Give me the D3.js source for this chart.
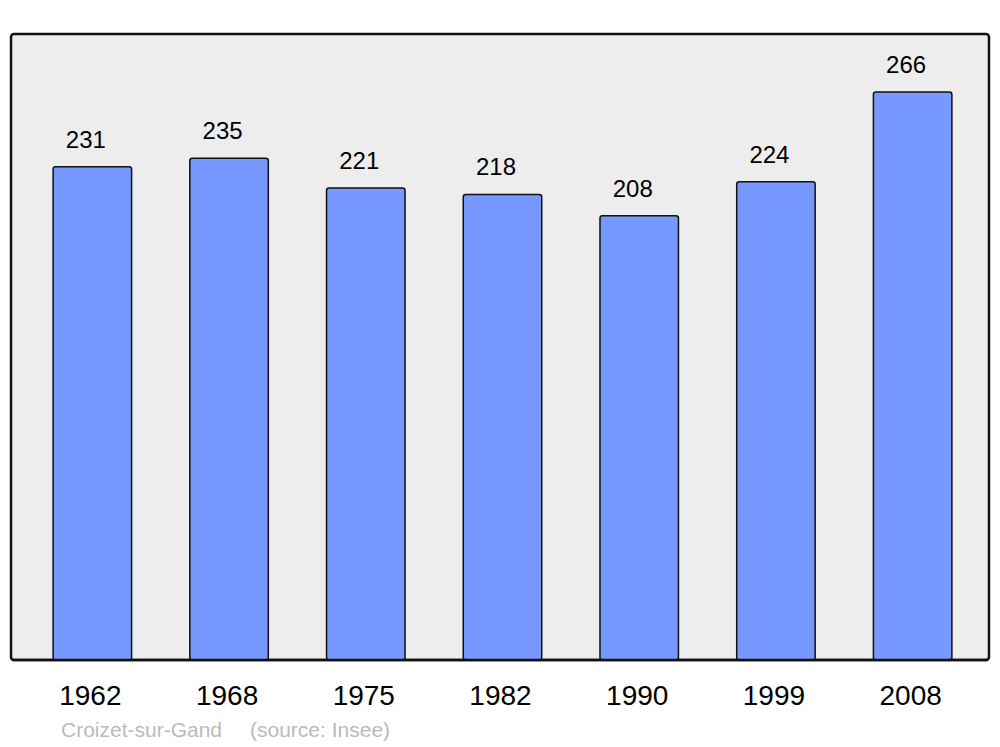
<!DOCTYPE html>
<html>
<head>
<meta charset="utf-8">
<script src="https://cdn.jsdelivr.net/npm/d3@7"></script>
<style>
  body { margin: 0; background: #fff; }
  text { font-family: "Liberation Sans", Arial, sans-serif; }
</style>
</head>
<body>
<script>
const width = 1000
const height = 747

const years = ["1962", "1968", "1975", "1982", "1990", "1999", "2008"]
const population = [231, 235, 221, 218, 208, 224, 266]
const commune = "Croizet-sur-Gand"
const source = "(source: Insee)"

const frame = ({left: 11, top: 34, right: 989, bottom: 660})

const x = d3.scaleBand()
    .domain(years)
    .range([24, 981])
    .paddingInner(0.426)
    .paddingOuter(0.213)

const y = d3.scaleLinear()
    .domain([0, 266])
    .range([frame.bottom, 92])

const data = years.map((yr, i) => ({year: yr, value: population[i]}))

const svg = d3.select("body").append("svg")
    .attr("width", width)
    .attr("height", height)

svg.append("rect")
    .attr("x", frame.left)
    .attr("y", frame.top)
    .attr("width", frame.right - frame.left)
    .attr("height", frame.bottom - frame.top)
    .attr("rx", 3)
    .attr("fill", "#ededed")
    .attr("stroke", "#111")
    .attr("stroke-width", 2.5)

svg.append("g")
  .selectAll("rect")
  .data(data)
  .join("rect")
    .attr("x", d => x(d.year))
    .attr("y", d => y(d.value))
    .attr("width", x.bandwidth())
    .attr("height", d => frame.bottom - y(d.value))
    .attr("rx", 2.5)
    .attr("fill", "#7799ff")
    .attr("stroke", "#111")
    .attr("stroke-width", 1.5)

// redraw bottom frame line over bar bottoms
svg.append("line")
    .attr("x1", frame.left + 1)
    .attr("x2", frame.right - 1)
    .attr("y1", frame.bottom)
    .attr("y2", frame.bottom)
    .attr("stroke", "#111")
    .attr("stroke-width", 2.5)

svg.append("g")
    .attr("font-size", 24)
    .attr("text-anchor", "middle")
  .selectAll("text")
  .data(data)
  .join("text")
    .attr("x", d => x(d.year) + x.bandwidth() / 2 - 6.5)
    .attr("y", d => y(d.value) - 19)
    .attr("fill", "#000")
    .text(d => d.value)

const xAxis = g => g
    .attr("transform", `translate(0,${frame.bottom})`)
    .call(d3.axisBottom(x).tickSize(0).tickPadding(0))
    .call(g => g.select(".domain").remove())
    .call(g => g.selectAll("text")
        .attr("dy", null)
        .attr("y", 45)
        .attr("x", -2)
        .attr("font-size", 28)
        .attr("font-family", "Liberation Sans, Arial, sans-serif")
        .attr("fill", "#000"))

svg.append("g").call(xAxis)

svg.append("text")
    .attr("x", 61)
    .attr("y", 737)
    .attr("font-size", 21)
    .attr("fill", "#bbb")
    .text(commune)

svg.append("text")
    .attr("x", 250)
    .attr("y", 737)
    .attr("font-size", 21)
    .attr("fill", "#bbb")
    .text(source)
</script>
</body>
</html>
